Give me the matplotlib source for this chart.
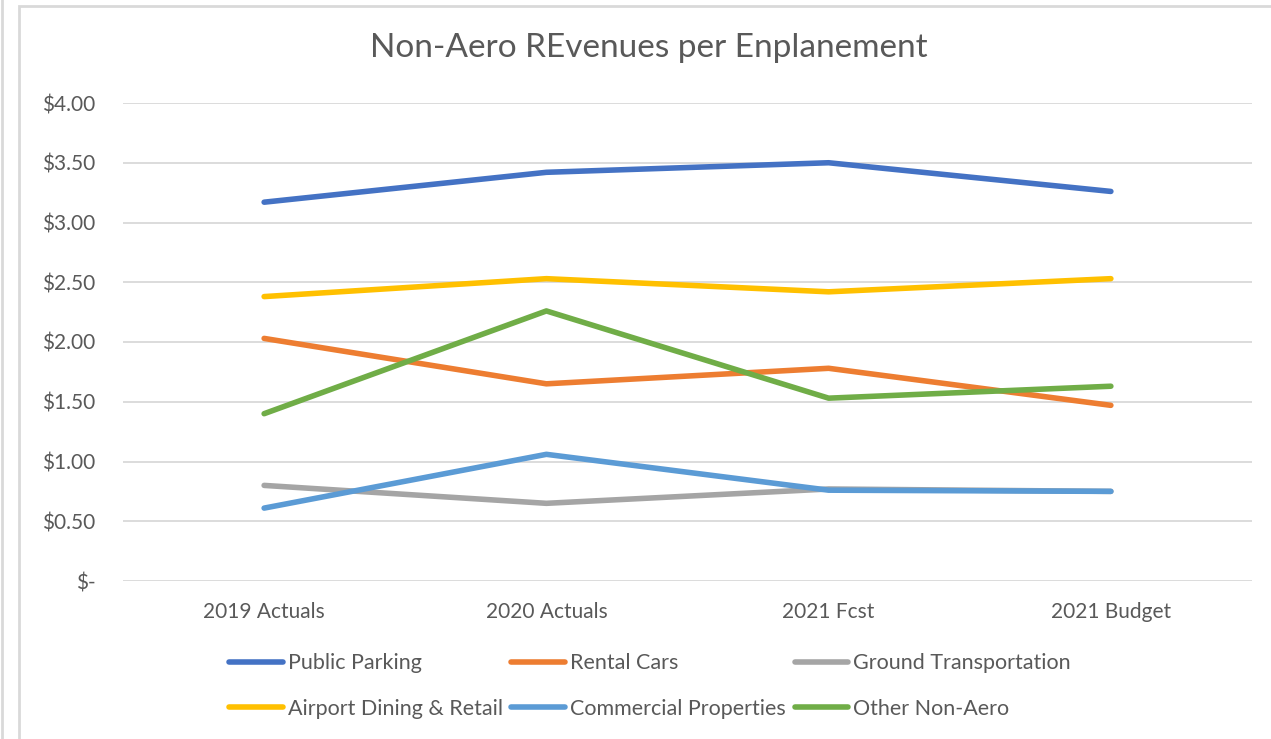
import numpy as np
import matplotlib
matplotlib.use("Agg")
import matplotlib.pyplot as plt
from matplotlib.patches import Rectangle
from matplotlib.lines import Line2D

plt.rcParams['font.family'] = ['Lato', 'DejaVu Sans']

categories = ["2019 Actuals", "2020 Actuals", "2021 Fcst", "2021 Budget"]

public_parking = [3.17, 3.42, 3.50, 3.26]
rental_cars = [2.03, 1.65, 1.78, 1.47]
ground_transport = [0.80, 0.65, 0.77, 0.75]
dining_retail = [2.38, 2.53, 2.42, 2.53]
commercial_props = [0.61, 1.06, 0.76, 0.75]
other_non_aero = [1.40, 2.26, 1.53, 1.63]

series = [
    ("Public Parking", public_parking, "#4472C4"),
    ("Rental Cars", rental_cars, "#ED7D31"),
    ("Ground Transportation", ground_transport, "#A5A5A5"),
    ("Airport Dining & Retail", dining_retail, "#FFC000"),
    ("Commercial Properties", commercial_props, "#5B9BD5"),
    ("Other Non-Aero", other_non_aero, "#70AD47"),
]

yticks = [0, 0.5, 1.0, 1.5, 2.0, 2.5, 3.0, 3.5, 4.0]
ytick_labels = ["$-", "$0.50", "$1.00", "$1.50", "$2.00", "$2.50", "$3.00", "$3.50", "$4.00"]

text_col = "#595959"
grid_col = "#D9D9D9"

W, H = 1271, 739
fig = plt.figure(figsize=(W / 100, H / 100), dpi=100)

# outer frame lines like the screenshot
fig.add_artist(Line2D([2 / W, 2 / W], [0, 1], color="#D9D9D9", lw=2))
fig.add_artist(Rectangle((19 / W, -0.01), 1.2, 1 - 6 / H + 0.01, transform=fig.transFigure,
                         fill=False, edgecolor="#D9D9D9", lw=2))

ax = fig.add_axes([123 / W, 1 - 581 / H, (1252 - 123) / W, (581 - 103) / H])
x = np.arange(len(categories))

handles = {}
for name, vals, col in series:
    ln, = ax.plot(x, vals, color=col, lw=4, solid_capstyle="round", solid_joinstyle="round", zorder=3)
    handles[name] = ln

ax.set_xlim(-0.5, len(categories) - 0.5)
ax.set_ylim(0, 4.0)
ax.set_yticks(yticks)
ax.set_yticklabels(ytick_labels)
ax.set_xticks(x)
ax.set_xticklabels(categories)
ax.tick_params(axis="both", length=0, labelsize=15, colors=text_col)
ax.tick_params(axis="y", pad=20)
ax.tick_params(axis="x", pad=15)
ax.grid(axis="y", color=grid_col, lw=1.3, zorder=0)
for s in ax.spines.values():
    s.set_visible(False)

fig.text(649 / W, 1 - 48 / H, "Non-Aero REvenues per Enplanement", ha="center", va="center",
         fontsize=24, color=text_col)

order = ["Public Parking", "Airport Dining & Retail", "Rental Cars",
         "Commercial Properties", "Ground Transportation", "Other Non-Aero"]
leg = fig.legend([handles[n] for n in order], order, ncol=3, loc="center",
                 bbox_to_anchor=(650 / W, 1 - 686 / H), frameon=False, fontsize=15.5,
                 handlelength=2.5, handletextpad=0.23, columnspacing=0.4, labelspacing=1.2)
for t in leg.get_texts():
    t.set_color(text_col)

fig.savefig("out.png", dpi=100)
